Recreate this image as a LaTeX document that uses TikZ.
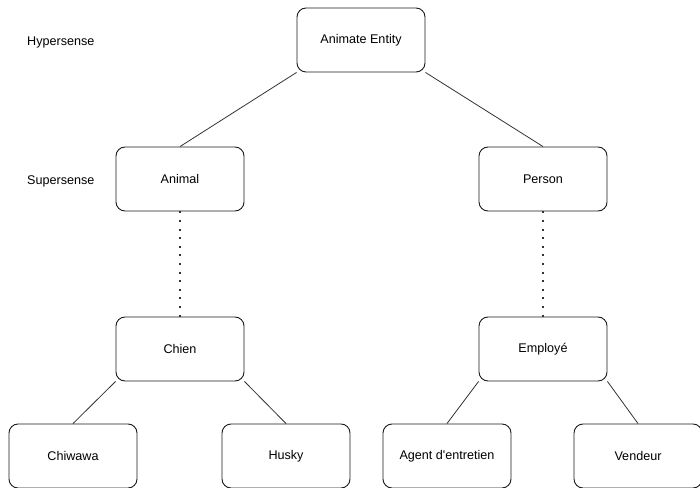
\documentclass[tikz,border=0pt]{standalone}
\usepackage{fontspec}
\setmainfont{Liberation Sans}
\usepackage{tikz}
\usetikzlibrary{arrows.meta,positioning}
\definecolor{BoxLine}{HTML}{1A1A1A}
\definecolor{EdgeGray}{HTML}{333333}

\begin{document}
\begin{tikzpicture}[x=1bp,y=-1bp,
sense/.style={draw=BoxLine,line width=0.9bp,rounded corners=9bp,minimum width=128bp,minimum height=64bp,inner sep=0pt,align=center,font=\fontsize{12.6bp}{14bp}\selectfont},
level/.style={anchor=west,inner sep=0pt,font=\fontsize{12.6bp}{14bp}\selectfont},
link/.style={draw=EdgeGray,line width=0.8bp},
dots/.style={draw=EdgeGray,line width=2bp,dash pattern=on 2bp off 6.6bp}
]
\useasboundingbox (0,0) rectangle (700,488);
\node[level] (hyper) at (27,42) {Hypersense};
\node[level] (super) at (27,181) {Supersense};
\node[sense] (entity) at (361,40) {Animate Entity};
\node[sense] (animal) at (180,179) {Animal};
\node[sense] (person) at (543,179) {Person};
\node[sense] (chien) at (180,349) {Chien};
\node[sense] (employe) at (543,349) {Employé};
\node[sense] (chiwawa) at (73,456) {Chiwawa};
\node[sense] (husky) at (286,456) {Husky};
\node[sense] (agent) at (447,456) {Agent d\textquotesingle entretien};
\node[sense] (vendeur) at (638,456) {Vendeur};
\draw[link] (entity.south west) -- (animal.north);
\draw[link] (entity.south east) -- (person.north);
\draw[dots] (animal.south) -- (chien.north);
\draw[dots] (person.south) -- (employe.north);
\draw[link] (chien.south west) -- (chiwawa.north);
\draw[link] (chien.south east) -- (husky.north);
\draw[link] (employe.south west) -- (agent.north);
\draw[link] (employe.south east) -- (vendeur.north);
\end{tikzpicture}
\end{document}
